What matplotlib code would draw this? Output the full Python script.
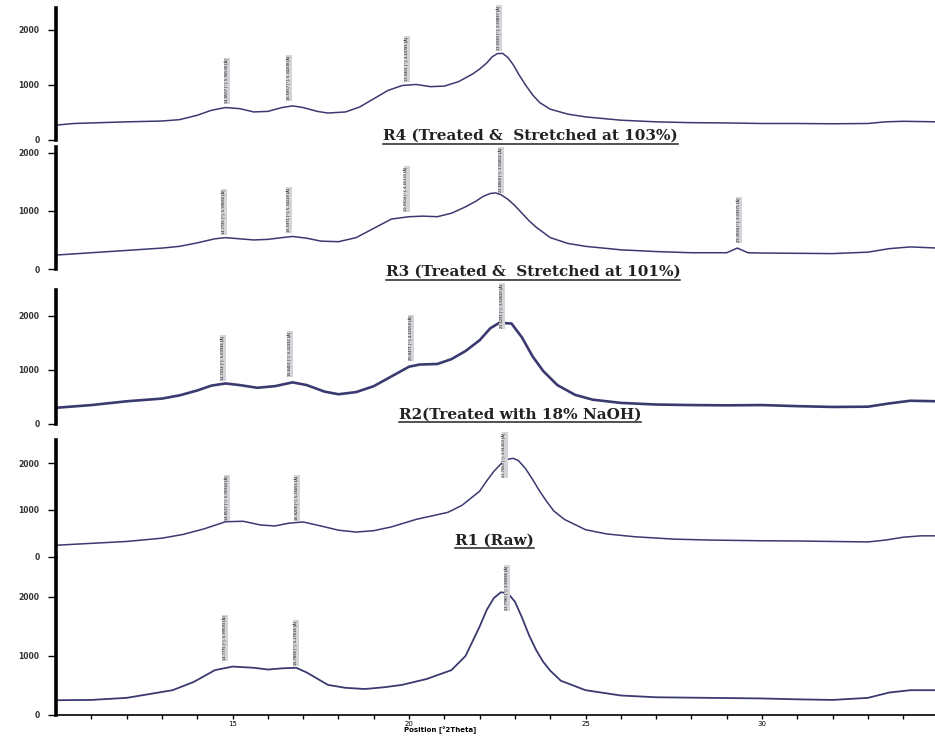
import matplotlib
matplotlib.use("Agg")
import matplotlib.pyplot as plt
from matplotlib.lines import Line2D

plt.rcParams['font.family'] = ['DejaVu Sans']

# 2theta [deg] / counts, top to bottom
p1_x = [10, 10.5, 11, 12, 13, 13.5, 14.0, 14.4, 14.8, 15.2, 15.6, 16.0, 16.4, 16.7, 17.0, 17.4,
        17.7, 18.2, 18.6, 19.0, 19.4, 19.8, 20.2, 20.6, 21.0, 21.4, 21.8, 22.0, 22.2, 22.35, 22.5,
        22.65, 22.8, 22.95, 23.1, 23.3, 23.5, 23.7, 24.0, 24.5, 25.0, 26, 27, 28, 29, 30, 31, 32,
        33, 33.5, 34, 35]
p1_y = [270, 300, 310, 330, 345, 370, 450, 540, 590, 570, 510, 520, 590, 620, 590, 520,
        490, 510, 600, 750, 900, 990, 1010, 970, 980, 1060, 1200, 1290, 1400, 1510, 1570,
        1575, 1500, 1370, 1200, 1000, 820, 680, 560, 470, 420, 360, 330, 315, 310, 300, 300, 295,
        300, 330, 340, 330]

p2_x = [10, 11, 12, 13, 13.5, 14, 14.5, 14.8, 15.2, 15.6, 16.0, 16.4, 16.7, 17.1, 17.5, 18.0,
        18.5, 19.0, 19.5, 20.0, 20.4, 20.8, 21.2, 21.6, 21.9, 22.1, 22.3, 22.45, 22.6, 22.8, 23.0,
        23.2, 23.4, 23.6, 24.0, 24.5, 25, 26, 27, 28, 29, 29.3, 29.6, 30, 31, 32, 33, 33.6, 34.2,
        35]
p2_y = [240, 280, 320, 360, 390, 450, 520, 540, 520, 500, 510, 540, 560, 530, 480, 470,
        540, 700, 860, 900, 910, 900, 960, 1070, 1170, 1250, 1300, 1310, 1280, 1200, 1090,
        960, 830, 720, 540, 440, 390, 330, 300, 280, 280, 360, 280, 275, 270, 265, 290, 350, 380,
        360]

p3_x = [10, 11, 12, 13, 13.5, 14.0, 14.4, 14.8, 15.2, 15.7, 16.2, 16.7, 17.1, 17.6, 18.0, 18.5,
        19.0, 19.5, 20.0, 20.3, 20.8, 21.2, 21.6, 22.0, 22.3, 22.55, 22.9, 23.2, 23.5, 23.8, 24.2,
        24.7, 25.2, 26, 27, 28, 29, 30, 31, 32, 33, 33.6, 34.2, 35]
p3_y = [300, 350, 420, 470, 530, 620, 710, 750, 720, 670, 700, 770, 720, 600, 550, 590,
        700, 880, 1060, 1100, 1110, 1200, 1350, 1550, 1770, 1870, 1860, 1600, 1250, 980, 720,
        540, 450, 390, 360, 350, 345, 350, 330, 315, 320, 380, 430, 420]

p4_x = [10, 11, 12, 13, 13.6, 14.2, 14.8, 15.3, 15.8, 16.2, 16.6, 17.0, 17.5, 18.0, 18.5, 19.0,
        19.5, 20.2, 20.8, 21.1, 21.5, 22.0, 22.2, 22.4, 22.6, 22.8, 22.95, 23.1, 23.3, 23.5, 23.7,
        23.9, 24.1, 24.4, 25.0, 25.6, 26.4, 27.5, 28.5, 30, 31, 32, 33, 33.5, 34, 34.5, 35]
p4_y = [250, 290, 330, 400, 480, 600, 750, 760, 680, 660, 720, 745, 660, 570, 530, 560,
        640, 800, 900, 950, 1100, 1400, 1620, 1820, 1980, 2080, 2100, 2050, 1880, 1650, 1400,
        1180, 980, 800, 580, 490, 430, 380, 360, 345, 340, 330, 320, 360, 420, 450, 450]

p5_x = [10, 11, 12, 12.8, 13.3, 13.9, 14.5, 15.0, 15.6, 16.0, 16.4, 16.8, 17.1, 17.7, 18.2, 18.75,
        19.3, 19.8, 20.5, 21.2, 21.6, 21.8, 22.0, 22.2, 22.4, 22.6, 22.8, 23.0, 23.2, 23.4, 23.6,
        23.8, 24.0, 24.3, 25.0, 26, 27, 28.5, 30, 31, 32, 33, 33.6, 34.2, 35]
p5_y = [250, 255, 290, 370, 420, 560, 760, 820, 800, 770, 790, 800, 720, 510, 460, 440,
        470, 510, 610, 760, 1000, 1250, 1500, 1780, 1980, 2080, 2060, 1920, 1650, 1350, 1100,
        900, 750, 580, 420, 330, 300, 290, 280, 265, 255, 290, 380, 420, 420]

# peak labels: position, label base (counts), text
p1_peaks = [14.85, 16.60, 19.95, 22.56]
p1_base = [670, 730, 1070, 1640]
p1_text = ["14.8507 [°]; 5.96530 [Å]", "16.5957 [°]; 5.34208 [Å]",
           "19.9461 [°]; 4.44785 [Å]", "22.5583 [°]; 3.93837 [Å]"]

p2_peaks = [14.77, 16.60, 19.93, 22.61, 29.36]
p2_base = [600, 640, 1000, 1330, 465]
p2_text = ["14.7725 [°]; 5.99680 [Å]", "16.5971 [°]; 5.34128 [Å]",
           "19.9304 [°]; 4.45133 [Å]", "22.6068 [°]; 3.93002 [Å]",
           "29.3594 [°]; 3.03971 [Å]"]

p3_peaks = [14.74, 16.64, 20.05, 22.63]
p3_base = [815, 890, 1185, 1780]
p3_text = ["14.7414 [°]; 6.00946 [Å]", "16.6401 [°]; 5.32332 [Å]",
           "20.0471 [°]; 4.42559 [Å]", "22.6291 [°]; 3.92620 [Å]"]

p4_peaks = [14.85, 16.82, 22.71]
p4_base = [790, 790, 1700]
p4_text = ["14.8537 [°]; 5.95944 [Å]", "16.8208 [°]; 5.26655 [Å]",
           "22.7063 [°]; 3.91300 [Å]"]

p5_peaks = [14.78, 16.79, 22.78]
p5_base = [930, 850, 1780]
p5_text = ["14.7775 [°]; 5.99593 [Å]", "16.7898 [°]; 5.27618 [Å]",
           "22.7780 [°]; 3.90086 [Å]"]

titles = ["R4 (Treated &  Stretched at 103%)", "R3 (Treated &  Stretched at 101%)",
          "R2(Treated with 18% NaOH)", "R1 (Raw)"]

line_col = "#3a3a70"

fig = plt.figure(figsize=(9.35, 7.38), dpi=100)

rects = [[0.06, 0.8103, 0.94, 0.1789],
         [0.06, 0.6355, 0.94, 0.1653],
         [0.06, 0.4255, 0.94, 0.1816],
         [0.06, 0.2453, 0.94, 0.1585],
         [0.06, 0.0312, 0.94, 0.2127]]
ytops = [2400, 2100, 2480, 2490, 2660]
widths = [1.1, 1.1, 1.9, 1.1, 1.3]

data = [(p1_x, p1_y, p1_peaks, p1_base, p1_text),
        (p2_x, p2_y, p2_peaks, p2_base, p2_text),
        (p3_x, p3_y, p3_peaks, p3_base, p3_text),
        (p4_x, p4_y, p4_peaks, p4_base, p4_text),
        (p5_x, p5_y, p5_peaks, p5_base, p5_text)]

axes = []
for i, (xs, ys, pk, base, txt) in enumerate(data):
    ax = fig.add_axes(rects[i])
    ax.patch.set_alpha(0)
    ax.plot(xs, ys, color=line_col, lw=widths[i])
    ax.set_xlim(10, 34.9)
    ax.set_ylim(0, ytops[i])
    ax.set_yticks([0, 1000, 2000])
    ax.tick_params(axis="y", direction="out", length=6, width=1, labelsize=5.5, pad=6)
    for lab in ax.get_yticklabels():
        lab.set_fontweight("bold")
        lab.set_color("#333333")
    for s in ["top", "right"]:
        ax.spines[s].set_visible(False)
    ax.spines["left"].set_linewidth(2.6)
    if i < 4:
        ax.spines["bottom"].set_visible(False)
        ax.set_xticks([])
    else:
        ax.set_xticks([15, 20, 25, 30])
        ax.set_xticks(range(11, 35), minor=True)
        ax.tick_params(axis="x", which="both", direction="out", length=3, width=1,
                       labelsize=5, pad=1)
        ax.spines["bottom"].set_linewidth(1.2)
        ax.set_xlabel("Position [°2Theta]", fontsize=5, fontweight="bold")
        ax.xaxis.set_label_coords((440 - 56) / 879, -0.068)
        ax.xaxis.label.set_va("top")
    for p, b, t in zip(pk, base, txt):
        ax.text(p, b, t, rotation=90, ha="center", va="bottom", fontsize=2.6,
                color="#111111", clip_on=False,
                bbox=dict(boxstyle="square,pad=0.25", fc="#d4d4d8", ec="none"))
    axes.append(ax)

title_pos = [(0.567, 0.8157), (0.570, 0.6314), (0.556, 0.4377), (0.529, 0.2670)]
texts = []
for (tx, ty), t in zip(title_pos, titles):
    texts.append(fig.text(tx, ty, t, ha="center", va="center", fontsize=11,
                          fontweight="bold", family="DejaVu Serif", color="#222222",
                          zorder=10))

# underline the titles
fig.canvas.draw()
r = fig.canvas.get_renderer()
W, H = fig.bbox.width, fig.bbox.height
for t in texts:
    bb = t.get_window_extent(renderer=r)
    yl = (bb.y0 - 0.5) / H
    fig.add_artist(Line2D([bb.x0 / W, bb.x1 / W], [yl, yl], color="#222222", lw=1.1))

fig.savefig("out.png", dpi=100)
